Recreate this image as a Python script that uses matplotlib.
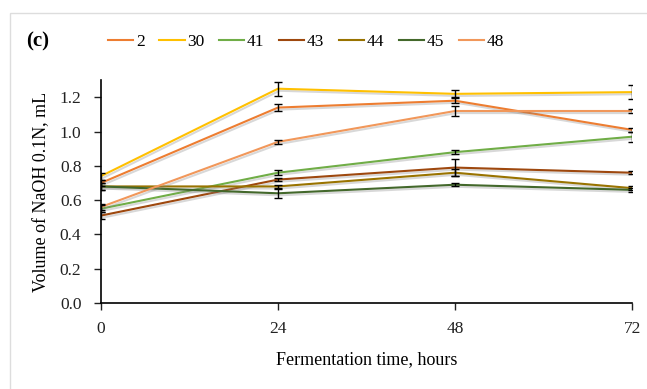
import matplotlib.pyplot as plt
import matplotlib.patches as patches
import matplotlib.patheffects as pe
from matplotlib.lines import Line2D

plt.rcParams['font.family'] = ['Liberation Serif', 'DejaVu Serif']

hours = [0, 24, 48, 72]
labels = ['2', '30', '41', '43', '44', '45', '48']
colors = ['#ED7D31', '#FFC000', '#70AD47', '#9E480E', '#997300', '#43682B', '#F1975A']

vals = {
    '2':  [0.70, 1.14, 1.18, 1.01],
    '30': [0.74, 1.25, 1.22, 1.23],
    '41': [0.55, 0.76, 0.88, 0.97],
    '43': [0.51, 0.72, 0.79, 0.76],
    '44': [0.68, 0.68, 0.76, 0.67],
    '45': [0.68, 0.64, 0.69, 0.66],
    '48': [0.56, 0.94, 1.12, 1.12],
}
errs = {
    '2':  [0.02, 0.02, 0.015, 0.01],
    '30': [0.02, 0.04, 0.02, 0.04],
    '41': [0.02, 0.015, 0.01, 0.03],
    '43': [0.02, 0.01, 0.05, 0.01],
    '44': [0.02, 0.01, 0.02, 0.01],
    '45': [0.02, 0.025, 0.01, 0.01],
    '48': [0.02, 0.01, 0.03, 0.01],
}

fig = plt.figure(figsize=(6.47, 3.89), dpi=100)
ax = fig.add_axes([0.156, 0.221, 0.821, 0.573])

shadow = [pe.SimpleLineShadow(offset=(1, -1.5), shadow_color='grey', alpha=0.3), pe.Normal()]
handles = []
for lab, col in zip(labels, colors):
    ax.plot(hours, vals[lab], color=col, lw=1.5, path_effects=shadow, zorder=2)
    ax.errorbar(hours, vals[lab], yerr=errs[lab], fmt='none', ecolor='black',
                elinewidth=1, capsize=3, capthick=1, zorder=3)
    handles.append(Line2D([], [], color=col, lw=1.5, label=lab))

ax.set_xlim(0, 72)
ax.set_ylim(0, 1.3)
ax.set_xticks(hours)
ax.set_yticks([0.0, 0.2, 0.4, 0.6, 0.8, 1.0, 1.2])
ax.set_yticklabels(['0.0', '0.2', '0.4', '0.6', '0.8', '1.0', '1.2'])
ax.spines['top'].set_visible(False)
ax.spines['right'].set_visible(False)
ax.spines['left'].set_linewidth(1.2)
ax.spines['bottom'].set_linewidth(1.2)
ax.tick_params(labelsize=12.5, length=5, width=1, direction='out', colors='#222222')
ax.tick_params(axis='x', pad=8)
ax.tick_params(axis='y', pad=9)
ax.set_xlabel('Fermentation time, hours', fontsize=13, labelpad=10)
ax.set_ylabel('Volume of NaOH 0.1N, mL', fontsize=13, labelpad=7)

fig.legend(handles=handles, loc='center left', bbox_to_anchor=(0.167, 0.892), ncol=7,
           frameon=False, fontsize=12.5, handlelength=1.45, handletextpad=0.15,
           columnspacing=0.85, borderpad=0, borderaxespad=0)

fig.text(0.041, 0.893, '(c)', fontsize=15, fontweight='bold', va='center')

fig.patches.append(patches.Rectangle((10 / 647, -0.1), 1.2, 1 - 13 / 389 + 0.1,
                                     transform=fig.transFigure, fill=False,
                                     edgecolor='#dddddd', lw=1))

fig.savefig('out.png', dpi=100)
